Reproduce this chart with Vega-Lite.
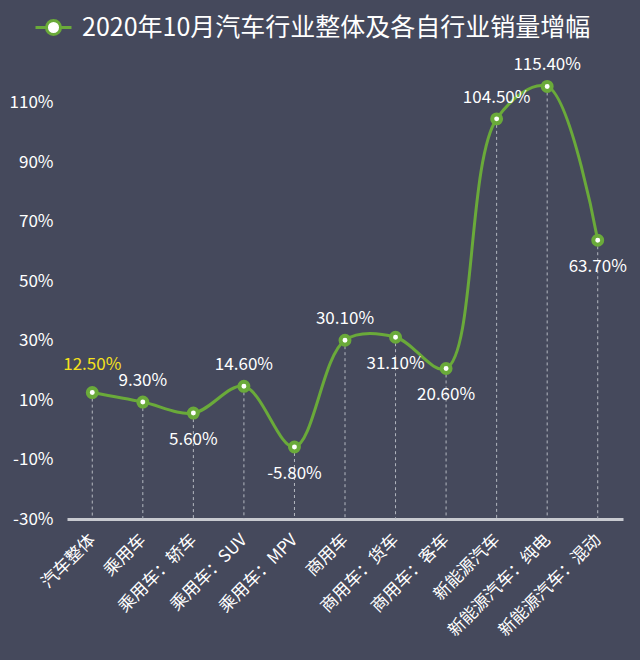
{
  "$schema": "https://vega.github.io/schema/vega-lite/v6.json",
  "width": 556,
  "height": 476,
  "autosize": "none",
  "padding": {"left": 67, "top": 43, "right": 17, "bottom": 141},
  "background": "#45495c",
  "config": {
    "view": {"stroke": null},
    "font": "Noto Sans CJK SC",
    "locale": {"number": {"decimal": ".", "thousands": ",", "grouping": [3], "currency": ["$", ""], "minus": "-"}}
  },
  "data": {
    "values": [
      {"cat": "汽车整体", "val": 0.125},
      {"cat": "乘用车", "val": 0.093},
      {"cat": "乘用车：轿车", "val": 0.056},
      {"cat": "乘用车：SUV", "val": 0.146},
      {"cat": "乘用车：MPV", "val": -0.058},
      {"cat": "商用车", "val": 0.301},
      {"cat": "商用车：货车", "val": 0.311},
      {"cat": "商用车：客车", "val": 0.206},
      {"cat": "新能源汽车", "val": 1.045},
      {"cat": "新能源汽车：纯电", "val": 1.154},
      {"cat": "新能源汽车：混动", "val": 0.637}
    ]
  },
  "encoding": {
    "x": {
      "field": "cat", "type": "nominal", "sort": null,
      "scale": {"type": "point", "padding": 0.5},
      "axis": {
        "title": null, "grid": false, "ticks": false,
        "domain": true, "domainColor": "#c8cad0", "domainWidth": 3,
        "labelColor": "#ffffff", "labelFontSize": 17, "labelAngle": -45,
        "labelAlign": "right", "labelBaseline": "middle", "labelPadding": 18,
        "labelLimit": 300
      }
    },
    "y": {
      "field": "val", "type": "quantitative",
      "scale": {"domain": [-0.3, 1.3], "nice": false, "zero": false},
      "axis": {
        "title": null, "grid": false, "ticks": false, "domain": false,
        "values": [-0.3, -0.1, 0.1, 0.3, 0.5, 0.7, 0.9, 1.1],
        "format": ".0%", "labelColor": "#ffffff", "labelFontSize": 17, "labelPadding": 14
      }
    }
  },
  "layer": [
    {
      "mark": {"type": "rule", "color": "#b4b8c0", "strokeWidth": 1, "strokeDash": [3, 3]},
      "encoding": {"y2": {"datum": -0.3}}
    },
    {
      "mark": {"type": "line", "interpolate": "catmull-rom", "strokeWidth": 3},
      "encoding": {
        "color": {
          "datum": "2020年10月汽车行业整体及各自行业销量增幅",
          "scale": {"range": ["#6aaa3a"]},
          "legend": {
            "title": null, "orient": "none", "legendX": -33, "legendY": -35,
            "labelFontSize": 25, "labelColor": "#ffffff", "labelLimit": 700, "labelOffset": 9,
            "symbolType": "M-1,0H-0.39M0.39,0H1M-0.39,0A0.39,0.39 0 1,1 0.39,0A0.39,0.39 0 1,1 -0.39,0Z",
            "symbolSize": 1296,
            "encode": {"symbols": {"update": {"fill": {"value": "#ffffff"}, "stroke": {"value": "#6aaa3a"}, "strokeWidth": {"value": 3}, "opacity": {"value": 1}}}}
          }
        }
      }
    },
    {
      "mark": {"type": "point", "filled": true, "fill": "#ffffff", "stroke": "#6aaa3a", "strokeWidth": 4, "size": 80, "opacity": 1}
    },
    {
      "transform": [{"filter": {"field": "cat", "oneOf": ["汽车整体"]}}],
      "mark": {"type": "text", "dy": -28, "fontSize": 17, "color": "#f5e11b"},
      "encoding": {
        "text": {"field": "val", "type": "quantitative", "format": ".2%"}
      }
    },
    {
      "transform": [{"filter": {"field": "cat", "oneOf": ["乘用车", "乘用车：SUV", "商用车", "新能源汽车", "新能源汽车：纯电"]}}],
      "mark": {"type": "text", "dy": -21, "fontSize": 17, "color": "#ffffff"},
      "encoding": {
        "text": {"field": "val", "type": "quantitative", "format": ".2%"}
      }
    },
    {
      "transform": [{"filter": {"field": "cat", "oneOf": ["乘用车：轿车", "乘用车：MPV", "商用车：货车", "商用车：客车", "新能源汽车：混动"]}}],
      "mark": {"type": "text", "dy": 27, "fontSize": 17, "color": "#ffffff"},
      "encoding": {
        "text": {"field": "val", "type": "quantitative", "format": ".2%"}
      }
    }
  ]
}
